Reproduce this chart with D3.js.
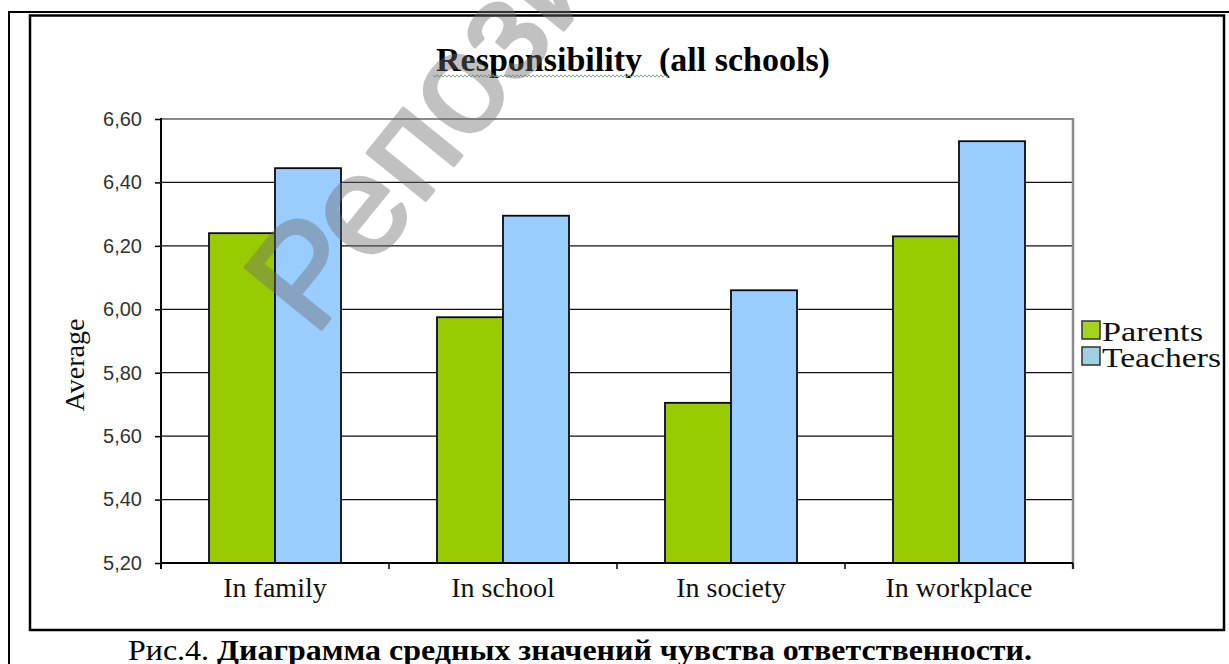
<!DOCTYPE html>
<html>
<head>
<meta charset="utf-8">
<script src="https://cdn.jsdelivr.net/npm/d3@7"></script>
<style>
  html, body { margin: 0; padding: 0; background: #fff; }
  svg { display: block; }
</style>
</head>
<body>
<svg id="chart" width="1229" height="664"></svg>
<script>
// ---- data ----
const categories = ["In family", "In school", "In society", "In workplace"];
const seriesNames = ["Parents", "Teachers"];
const parentsValues = [6.24, 5.975, 5.705, 6.23];
const teachersValues = [6.445, 6.295, 6.06, 6.53];
const yTicks = [5.2, 5.4, 5.6, 5.8, 6.0, 6.2, 6.4, 6.6];
const seriesColors = ["#99cc00", "#99ccff"];
const legendColors = ["#a6d41e", "#9fd0e2"];
const titleText = "Responsibility  (all schools)";
const yTitle = "Average";
const captionNormal = "Рис.4. ";
const captionBold = "Диаграмма средных значений чувства ответственности.";
const watermarkText = "Репозиторий";

const svg = d3.select("#chart");
const W = 1229, H = 664;

// frames
svg.append("line").attr("x1", 8).attr("x2", W).attr("y1", 12).attr("y2", 12)
  .attr("stroke", "#000").attr("stroke-width", 2);
svg.append("line").attr("x1", 9).attr("x2", 9).attr("y1", 11).attr("y2", H)
  .attr("stroke", "#000").attr("stroke-width", 2);
svg.append("rect").attr("x", 30).attr("y", 15.5).attr("width", 1194).attr("height", 614.5)
  .attr("fill", "none").attr("stroke", "#000").attr("stroke-width", 2.5);

const plot = { left: 161, right: 1073, top: 119, bottom: 563 };

const x0 = d3.scaleBand().domain(categories)
  .range([plot.left, plot.right]).paddingInner(0.421).paddingOuter(0.2105);
const x1 = d3.scaleBand().domain(seriesNames).range([0, x0.bandwidth()]);
const y = d3.scaleLinear().domain([5.2, 6.6]).range([plot.bottom, plot.top]);

const locale = d3.formatLocale({ decimal: ",", thousands: " ", grouping: [3], currency: ["", ""] });
const fmt = locale.format(".2f");

// gridlines
svg.append("g").selectAll("line").data(yTicks).join("line")
  .attr("x1", plot.left).attr("x2", plot.right)
  .attr("y1", d => y(d)).attr("y2", d => y(d))
  .attr("stroke", (d, i) => i === yTicks.length - 1 ? "#8a8a8a" : "#111")
  .attr("stroke-width", (d, i) => i === yTicks.length - 1 ? 2 : 1.3)
  .attr("display", (d, i) => i === 0 ? "none" : null);

// right gray border
svg.append("line").attr("x1", plot.right).attr("x2", plot.right)
  .attr("y1", plot.top - 1).attr("y2", plot.bottom + 6)
  .attr("stroke", "#8a8a8a").attr("stroke-width", 2.5);

// bars
const table = categories.map((c, i) => ({ cat: c, vals: [parentsValues[i], teachersValues[i]] }));
const groups = svg.append("g").selectAll("g").data(table).join("g")
  .attr("transform", d => `translate(${x0(d.cat)},0)`);
groups.selectAll("rect").data(d => d.vals.map((v, j) => ({ name: seriesNames[j], v, j })))
  .join("rect")
  .attr("x", d => x1(d.name))
  .attr("width", x1.bandwidth())
  .attr("y", d => y(d.v))
  .attr("height", d => y(5.2) - y(d.v))
  .attr("fill", d => seriesColors[d.j])
  .attr("stroke", "#0a0a14").attr("stroke-width", 1.8);

// y axis
const yAxis = svg.append("g").attr("transform", `translate(${plot.left},0)`)
  .call(d3.axisLeft(y).tickValues(yTicks).tickFormat(fmt).tickSize(6).tickPadding(13));
yAxis.select(".domain").attr("d", `M0,${plot.top - 1}V${plot.bottom + 6}`)
  .attr("stroke", "#000").attr("stroke-width", 2);
yAxis.selectAll(".tick line").attr("stroke", "#000").attr("stroke-width", 1.5);
yAxis.selectAll(".tick text").attr("font-family", "Liberation Sans, Arial, sans-serif")
  .attr("font-size", 20).attr("fill", "#333");

// x axis
const xAxis = svg.append("g").attr("transform", `translate(0,${plot.bottom})`)
  .call(d3.axisBottom(x0).tickSize(0).tickPadding(14));
xAxis.select(".domain").attr("d", `M${plot.left},0H${plot.right}`)
  .attr("stroke", "#000").attr("stroke-width", 2);
xAxis.selectAll(".tick text").attr("font-family", "Liberation Serif, Times New Roman, serif")
  .attr("font-size", 28).attr("fill", "#111");
const boundaries = d3.range(categories.length + 1).map(i => plot.left + i * x0.step());
xAxis.append("g").selectAll("line").data(boundaries).join("line")
  .attr("x1", d => d).attr("x2", d => d).attr("y1", 0).attr("y2", 6)
  .attr("stroke", "#000").attr("stroke-width", 1.5);

// y title
svg.append("text")
  .attr("transform", "translate(84,365) rotate(-90)")
  .attr("text-anchor", "middle")
  .attr("font-family", "Liberation Serif, Times New Roman, serif")
  .attr("font-size", 28).attr("fill", "#111")
  .text(yTitle);

// title
svg.append("text")
  .attr("x", 633).attr("y", 71)
  .attr("text-anchor", "middle")
  .attr("font-family", "Liberation Serif, Times New Roman, serif")
  .attr("font-weight", "bold").attr("font-size", 34).attr("fill", "#000")
  .style("white-space", "pre")
  .text(titleText);
// spell-check squiggle under first word
const sq = d3.range(0, 238, 2).map((d, i) => [433 + d, 76 + (i % 2 ? 1.2 : -1.2)]);
svg.append("path").attr("d", d3.line()(sq)).attr("fill", "none")
  .attr("stroke", "#7fa88a").attr("stroke-width", 1);

// legend
const legend = svg.append("g").attr("transform", "translate(1082,321)");
const li = legend.selectAll("g").data(seriesNames).join("g")
  .attr("transform", (d, i) => `translate(0,${i * 26})`);
li.append("rect").attr("x", 0).attr("y", 0).attr("width", 18).attr("height", 18)
  .attr("fill", (d, i) => legendColors[i]).attr("stroke", "#333").attr("stroke-width", 1.5);
li.append("text").attr("x", 20).attr("y", 20)
  .attr("font-family", "Liberation Serif, Times New Roman, serif")
  .attr("font-size", 28).attr("fill", "#111")
  .attr("textLength", (d, i) => i === 0 ? 101 : 119)
  .attr("lengthAdjust", "spacingAndGlyphs")
  .text(d => d);

// caption
const cap = svg.append("text").attr("x", 128).attr("y", 660)
  .attr("font-family", "Liberation Serif, Times New Roman, serif")
  .attr("font-size", 30).attr("fill", "#000")
  .attr("textLength", 904).attr("lengthAdjust", "spacingAndGlyphs");
cap.append("tspan").text(captionNormal).style("white-space", "pre");
cap.append("tspan").attr("font-weight", "bold").text(captionBold);

// watermark
svg.append("g").attr("opacity", 0.42)
  .append("text")
  .attr("transform", "translate(314,338) rotate(-51)")
  .attr("font-family", "Liberation Sans, Arial, sans-serif")
  .attr("font-size", 142)
  .attr("fill", "rgb(110,110,110)")
  .attr("stroke", "rgb(110,110,110)").attr("stroke-width", 3.5).attr("stroke-linejoin", "round")
  .text(watermarkText);
</script>
</body>
</html>
